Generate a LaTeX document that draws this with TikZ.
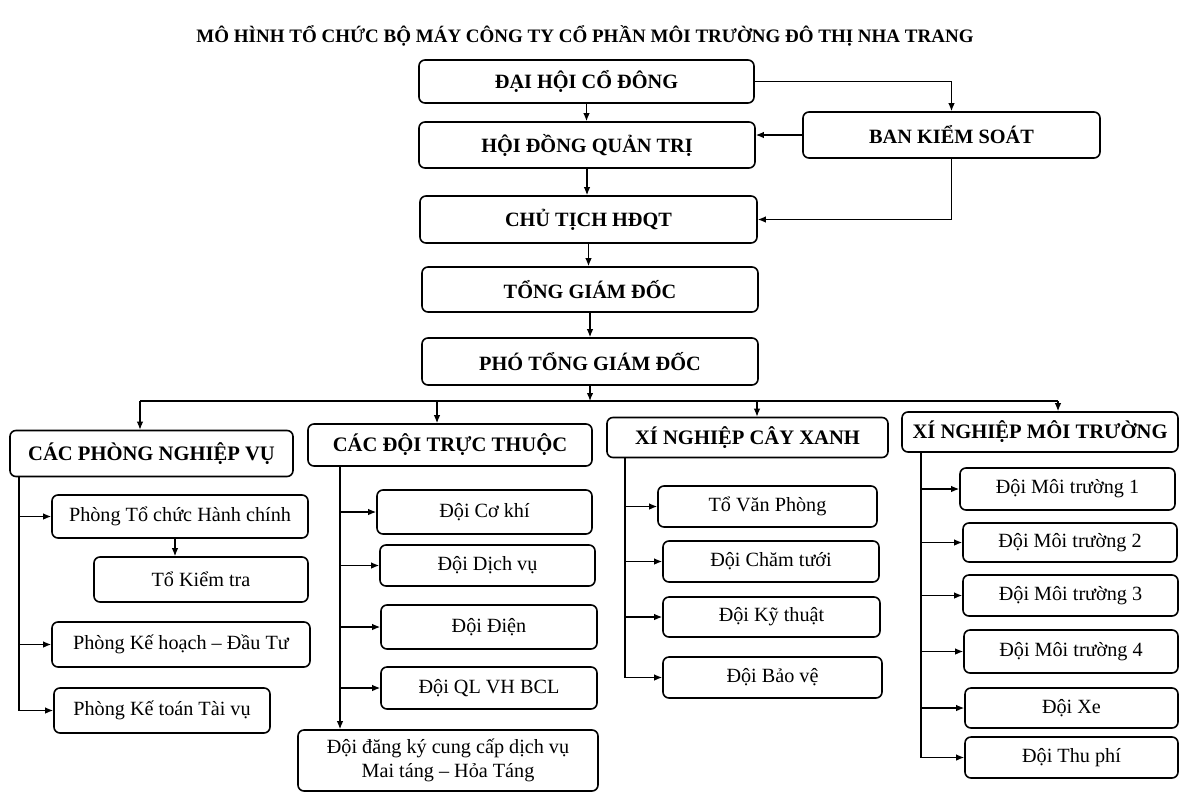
\documentclass[tikz,border=0pt]{standalone}
\usepackage{fontspec}
\setmainfont{Liberation Serif}
\usetikzlibrary{arrows.meta}
\tikzset{
  bx/.style={draw=black, line width=1.6pt, rounded corners=6pt, inner sep=0pt, align=center, fill=white},
  top/.style={bx, font=\fontsize{20.3}{22}\selectfont\bfseries},
  grp/.style={bx, font=\fontsize{20.6}{22}\selectfont\bfseries},
  sub/.style={bx, font=\fontsize{20.2}{23.5}\selectfont},
  ln/.style={draw=black, line width=1.3pt},
  arr/.style={ln, -{Latex[length=8pt,width=6.5pt]}}
}
\begin{document}
\begin{tikzpicture}[x=1pt,y=-1pt]
\fill[white] (0,0) rectangle (1180,793);
\useasboundingbox (0,0) rectangle (1180,793);

\node[font=\fontsize{19}{21}\selectfont\bfseries] (title) at (585,36) {MÔ HÌNH TỔ CHỨC BỘ MÁY CÔNG TY CỔ PHẦN MÔI TRƯỜNG ĐÔ THỊ NHA TRANG};

% top chain
\node[top, minimum width=335pt, minimum height=43pt] (dhcd) at (586.5,81.5) {ĐẠI HỘI CỔ ĐÔNG};
\node[top, minimum width=336pt, minimum height=46pt] (hdqt) at (587,145) {HỘI ĐỒNG QUẢN TRỊ};
\node[top, minimum width=337pt, minimum height=47pt] (ct) at (588.5,219.5) {CHỦ TỊCH HĐQT};
\node[top, minimum width=336pt, minimum height=45pt] (tgd) at (590,289.5) {TỔNG GIÁM ĐỐC};
\node[top, minimum width=336pt, minimum height=47pt] (ptgd) at (590,361.5) {PHÓ TỔNG GIÁM ĐỐC};
\node[top, minimum width=297pt, minimum height=46pt] (bks) at (951.5,135) {BAN KIỂM SOÁT};

\draw[arr] (dhcd.east) -| (bks.north);
\draw[arr] (bks.west) -- (bks.west -| hdqt.east);
\draw[arr] (bks.south) |- (ct.east);
\draw[arr] (dhcd.south) -- (dhcd.south |- hdqt.north);
\draw[arr] (hdqt.south) -- (hdqt.south |- ct.north);
\draw[arr] (ct.south) -- (ct.south |- tgd.north);
\draw[arr] (tgd.south) -- (tgd.south |- ptgd.north);

% group boxes
\node[grp, minimum width=283pt, minimum height=46pt] (cpnv) at (151.5,453.5) {CÁC PHÒNG NGHIỆP VỤ};
\node[grp, minimum width=284pt, minimum height=42pt] (cdtt) at (450,445) {CÁC ĐỘI TRỰC THUỘC};
\node[grp, minimum width=281pt, minimum height=40pt] (xncx) at (747.5,437.5) {XÍ NGHIỆP CÂY XANH};
\node[grp, minimum width=276pt, minimum height=40pt] (xnmt) at (1040,432) {XÍ NGHIỆP MÔI TRƯỜNG};

% bus
\coordinate (b1) at (140,401);
\coordinate (b2) at (437,401);
\coordinate (b3) at (757,401);
\coordinate (b4) at (1058,401);
\draw[ln] (b1) -- (b4);
\draw[arr] (ptgd.south) -- (ptgd.south |- b1);
\draw[arr] (b1) -- (b1 |- cpnv.north);
\draw[arr] (b2) -- (b2 |- cdtt.north);
\draw[arr] (b3) -- (b3 |- xncx.north);
\draw[arr] (b4) -- (b4 |- xnmt.north);

% column 1
\node[sub, minimum width=256pt, minimum height=43pt] (ptchc) at (180,516.5) {Phòng Tổ chức Hành chính};
\node[sub, minimum width=214pt, minimum height=45pt] (tkt) at (201,579.5) {Tổ Kiểm tra};
\node[sub, minimum width=258pt, minimum height=45pt] (pkhdt) at (181,644.5) {Phòng Kế hoạch – Đầu Tư};
\node[sub, minimum width=216pt, minimum height=45pt] (pktv) at (162,710.5) {Phòng Kế toán Tài vụ};
\coordinate (v1) at (19,476.5);
\coordinate (tk) at (175,540);
\draw[ln] (v1) -- (v1 |- pktv.west);
\draw[arr] (v1 |- ptchc.west) -- (ptchc.west);
\draw[arr] (v1 |- pkhdt.west) -- (pkhdt.west);
\draw[arr] (v1 |- pktv.west) -- (pktv.west);
\draw[arr] (ptchc.south -| tk) -- (tkt.north -| tk);

% column 2
\node[sub, minimum width=215pt, minimum height=44pt] (ck) at (484.5,512) {Đội Cơ khí};
\node[sub, minimum width=215pt, minimum height=41pt] (dv) at (487.5,565.5) {Đội Dịch vụ};
\node[sub, minimum width=216pt, minimum height=44pt] (dd) at (489,627) {Đội Điện};
\node[sub, minimum width=216pt, minimum height=42pt] (ql) at (489,688) {Đội QL VH BCL};
\node[sub, minimum width=300pt, minimum height=61pt] (dk) at (448,760.5) {Đội đăng ký cung cấp dịch vụ\\Mai táng – Hỏa Táng};
\coordinate (v2) at (340,466);
\draw[arr] (v2) -- (v2 |- dk.north);
\draw[arr] (v2 |- ck.west) -- (ck.west);
\draw[arr] (v2 |- dv.west) -- (dv.west);
\draw[arr] (v2 |- dd.west) -- (dd.west);
\draw[arr] (v2 |- ql.west) -- (ql.west);

% column 3
\node[sub, minimum width=219pt, minimum height=41pt] (tvp) at (767.5,506.5) {Tổ Văn Phòng};
\node[sub, minimum width=216pt, minimum height=41pt] (ctw) at (771,561.5) {Đội Chăm tưới};
\node[sub, minimum width=217pt, minimum height=40pt] (kt) at (771.5,617) {Đội Kỹ thuật};
\node[sub, minimum width=219pt, minimum height=41pt] (bv) at (772.5,677.5) {Đội Bảo vệ};
\coordinate (v3) at (625,457.5);
\draw[ln] (v3) -- (v3 |- bv.west);
\draw[arr] (v3 |- tvp.west) -- (tvp.west);
\draw[arr] (v3 |- ctw.west) -- (ctw.west);
\draw[arr] (v3 |- kt.west) -- (kt.west);
\draw[arr] (v3 |- bv.west) -- (bv.west);

% column 4
\node[sub, minimum width=215pt, minimum height=42pt] (mt1) at (1067.5,489) {Đội Môi trường 1};
\node[sub, minimum width=214pt, minimum height=39pt] (mt2) at (1070,542.5) {Đội Môi trường 2};
\node[sub, minimum width=215pt, minimum height=41pt] (mt3) at (1070.5,595.5) {Đội Môi trường 3};
\node[sub, minimum width=214pt, minimum height=43pt] (mt4) at (1071,651.5) {Đội Môi trường 4};
\node[sub, minimum width=213pt, minimum height=40pt] (xe) at (1071.5,708) {Đội Xe};
\node[sub, minimum width=213pt, minimum height=41pt] (tp) at (1071.5,757.5) {Đội Thu phí};
\coordinate (v4) at (921,452);
\draw[ln] (v4) -- (v4 |- tp.west);
\foreach \n in {mt1,mt2,mt3,mt4,xe,tp}
  \draw[arr] (v4 |- \n.west) -- (\n.west);
\end{tikzpicture}
\end{document}
